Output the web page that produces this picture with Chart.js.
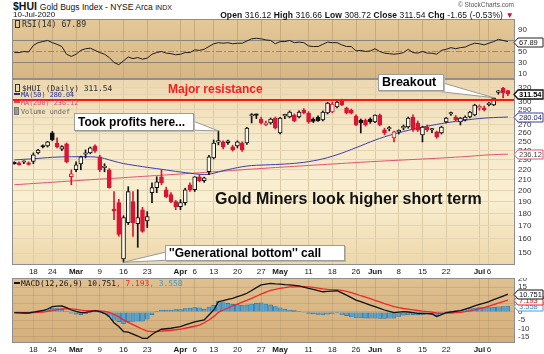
<!DOCTYPE html>
<html>
<head>
<meta charset="utf-8">
<title>$HUI Gold Bugs Index</title>
<script src="https://cdn.jsdelivr.net/npm/chart.js@4.4.1/dist/chart.umd.min.js"></script>
<style>
  body { margin:0; width:544px; height:354px; position:relative; overflow:hidden; background:#fff;
         font-family:"Liberation Sans", Arial, sans-serif; color:#111; }
  canvas { position:absolute; left:0; }
  .t { position:absolute; white-space:nowrap; line-height:1; }
  .mono { font-family:"DejaVu Sans Mono", monospace; color:#2a2a2a; }
  .ico { display:inline-block; width:3px; height:6px; border:1px solid #333; margin-right:2px; vertical-align:-1px; }
  .dash { display:inline-block; width:6px; height:0; border-top:2px solid; margin-right:1px; vertical-align:2px; }
  .box { position:absolute; background:#fff; border:1px solid #9c9c9c; box-shadow:1px 1px 0 #b8b8b8;
         font-weight:bold; white-space:nowrap; box-sizing:border-box; padding-left:3px; color:#000; }
</style>
</head>
<body>
<canvas id="rsiChart" width="544" height="60" style="top:19px"></canvas>
<canvas id="priceChart" width="544" height="199" style="top:79px"></canvas>
<canvas id="macdChart" width="544" height="76" style="top:278px"></canvas>

<div class="t" style="left:13px;top:1px;font-size:10.5px;font-weight:bold">$HUI <span style="font-weight:normal;font-size:8.5px">Gold Bugs Index - NYSE Arca <span style="font-size:7px">INDX</span></span></div>
<div class="t" id="dateLine" style="left:13px;top:11px;font-size:8px"></div>
<div class="t" id="ohlc" style="right:30px;top:11px;font-size:8.5px;letter-spacing:0.1px"></div>
<div class="t" style="right:30px;top:2px;font-size:6.5px;color:#555">© StockCharts.com</div>

<div class="t mono" style="left:15px;top:20px;font-size:8.2px"><span class="ico"></span>RSI(14) <span id="rsiVal"></span></div>

<div class="t mono" style="left:15px;top:84px;font-size:7.9px"><span class="ico"></span>$HUI (Daily) <span id="closeVal"></span></div>
<div class="t mono" style="left:14px;top:92px;font-size:6.8px;color:#2b2ba0"><span class="dash"></span>MA(50) <span id="ma50Val"></span></div>
<div class="t mono" style="left:14px;top:99.5px;font-size:6.8px;color:#e04462"><span class="dash"></span>MA(200) <span id="ma200Val"></span></div>
<div class="t mono" style="left:14px;top:107px;font-size:6.8px;color:#666"><span class="ico" style="border-color:#777;background:#999"></span>Volume undef</div>

<div class="t mono" style="left:14px;top:279.5px;font-size:7.9px;color:#111"><span class="dash" style="color:#111"></span>MACD(12,26,9) <span id="m1"></span><span style="color:#e82424">, <span id="m2"></span></span><span style="color:#3f96c9">, <span id="m3"></span></span></div>

<div class="t" style="left:168px;top:83px;font-size:12px;font-weight:bold;color:#ff1a1a">Major resistance</div>
<div class="box" style="left:74px;top:113px;width:120px;height:18px;font-size:12px;line-height:16px">Took profits here...</div>
<div class="box" style="left:378px;top:74px;width:66px;height:17px;font-size:12.5px;line-height:15px">Breakout</div>
<div class="t" style="left:215px;top:191px;font-size:16px;font-weight:bold">Gold Miners look higher short term</div>
<div class="box" style="left:165px;top:245px;width:180px;height:16px;font-size:12px;line-height:14px">''Generational bottom'' call</div>

<script>
// trading days shown on the chart
const dates = [
  '2020-02-11','2020-02-12','2020-02-13','2020-02-14','2020-02-18','2020-02-19','2020-02-20','2020-02-21','2020-02-24','2020-02-25',
  '2020-02-26','2020-02-27','2020-02-28','2020-03-02','2020-03-03','2020-03-04','2020-03-05','2020-03-06','2020-03-09','2020-03-10',
  '2020-03-11','2020-03-12','2020-03-13','2020-03-16','2020-03-17','2020-03-18','2020-03-19','2020-03-20','2020-03-23','2020-03-24',
  '2020-03-25','2020-03-26','2020-03-27','2020-03-30','2020-03-31','2020-04-01','2020-04-02','2020-04-03','2020-04-06','2020-04-07',
  '2020-04-08','2020-04-09','2020-04-13','2020-04-14','2020-04-15','2020-04-16','2020-04-17','2020-04-20','2020-04-21','2020-04-22',
  '2020-04-23','2020-04-24','2020-04-27','2020-04-28','2020-04-29','2020-04-30','2020-05-01','2020-05-04','2020-05-05','2020-05-06',
  '2020-05-07','2020-05-08','2020-05-11','2020-05-12','2020-05-13','2020-05-14','2020-05-15','2020-05-18','2020-05-19','2020-05-20',
  '2020-05-21','2020-05-22','2020-05-26','2020-05-27','2020-05-28','2020-05-29','2020-06-01','2020-06-02','2020-06-03','2020-06-04',
  '2020-06-05','2020-06-08','2020-06-09','2020-06-10','2020-06-11','2020-06-12','2020-06-15','2020-06-16','2020-06-17','2020-06-18',
  '2020-06-19','2020-06-22','2020-06-23','2020-06-24','2020-06-25','2020-06-26','2020-06-29','2020-06-30','2020-07-01','2020-07-02',
  '2020-07-06','2020-07-07','2020-07-08','2020-07-09','2020-07-10'
];

const opens = [
  227,227,227.5,227,228.5,237.5,245.5,245.3,260.3,248.6,
  241.5,247.5,213,219.8,225.9,236,237.5,245.3,233.2,222,
  219.8,183.5,189,146,172.5,189.9,171.7,183,173.8,197.9,
  202.5,212.9,200.6,196.1,189.9,185.6,189,205.2,200.6,212.9,
  209,217.8,232.2,249.5,249.8,249,244.1,245.3,248.6,248.6,
  281.3,282.6,277.5,270.5,272.5,278.8,260.3,281.5,280.1,282.6,
  280.1,289.2,285.2,277.5,280.1,276.2,285.2,286.5,293.2,302.8,
  291.9,289.2,281.3,276.2,276.2,277.5,273.7,282.6,263.9,265.1,
  254.4,261.5,266.5,267.5,280.1,272.5,257.9,267.5,263.8,261.5,
  260.3,273.7,283.9,280.1,273.7,276.2,280.1,282.6,292,291.9,
  296.5,296,313.5,319.9,316.12
];
const highs = [
  228,228,229,228,237.5,241.5,246.5,250.5,262,254.4,
  245.5,248.6,219.8,228,234,240.8,244,246.5,235,226,
  221,198.8,192,178,203.4,198.8,200.6,185,181.4,207.1,
  212.9,219.8,203,198,191,191.6,202,207,213,215,
  212.5,235,252,262.7,251,252,246,251,250,267,
  284.5,284,280,275,278.8,280,279.5,283.9,288,284,
  288,291,287,279,281.5,288,299.5,300,301,304,
  293,290.5,283,277.5,277.5,279,283,284,266,268,
  262.5,264,270,280,283,275,268.5,270,266,262.5,
  268.5,279.5,286.5,282,279.5,281.5,287.5,297,295.9,294.5,
  299.5,306,316.5,321,316.66
];
const lows = [
  225.5,224.5,226,224.5,226,236.5,243,244,251,243,
  240,227,205.2,217.8,219.8,232.2,236.5,238,218,217.8,
  202,174.9,162,143.8,171,161.9,154,165,168.6,189,
  197.9,205.2,193.5,189,183,183,187,199,199,208,
  207.5,215,231,246.4,242,247,239.5,243,239,247,
  272.5,278,271,269,271,265,259,278,279,274,
  279,284,272,273,274.5,275,284,285.5,292,295,
  284,284,269,260.3,268.5,272,273,269,258,262.7,
  249.8,259,264,266,262,262,249.8,262,260.5,254,
  259,272.5,282,275,270,275,279,281.5,289,287.9,
  294.5,295,311,305.6,308.72
];
const closes = [
  226,225,227.6,225.2,235.4,240.5,244,249.8,252.1,244.1,
  244.5,228,215.8,224.9,233.2,236.4,243,239.7,219.8,222.8,
  202.5,182.2,163.4,176.5,198.8,172.5,176.5,165.6,177.3,202.5,
  208.1,207.1,194.3,189.9,185.6,189,200.6,200.3,212.9,209,
  211.9,233.2,248.6,249.8,244.1,250.9,240.8,249.8,240.8,266.3,
  281.9,282.2,272.5,272,277.5,266.3,278.8,282,286.5,275,
  286.5,285.8,273.7,274.5,275.5,286.5,298.6,297.3,300,295.9,
  285.2,285,270,272.5,270,274,282.6,270,260.3,265.5,
  261.5,263,267,278.8,263.9,263.5,267.5,263.9,264.2,255.6,
  267.5,278.8,284.5,276.2,278.8,280.1,286.5,295.9,293,289.5,
  297.5,305.6,314.1,313.19,311.54
];

const ma50 = [
  230,230.3,230.6,230.9,231.2,231.6,232,232.4,232.8,233,
  233.2,233.3,233.3,233.4,233.4,233.5,233.3,233.1,232.5,231.5,
  230,228.6,227.3,226.2,225.3,224.5,223.8,223,222.3,221.6,
  221,220.3,219.6,218.9,218.2,217.6,217,216.4,215.8,215.3,
  215,215.3,216.3,217.6,218.9,220,221,222,222.9,223.6,
  224.1,224.4,224.6,224.8,225,225.2,225.4,225.7,226,226.4,
  226.9,227.4,228.2,229,230,231.1,232.4,233.9,235.5,237.3,
  239.2,241.2,243.3,245.4,247.6,249.8,251.9,253.9,255.7,257.4,
  259,260.5,262,263.4,264.8,266.1,267.3,268.5,269.6,270.7,
  271.7,272.7,273.6,274.4,275.2,276,276.8,277.5,278.1,278.6,
  279,279.3,279.6,279.8,280.04
];
const ma200 = [
  205.2,205.5,205.8,206.1,206.4,206.7,207,207.3,207.6,207.9,
  208.2,208.5,208.8,209.1,209.4,209.7,210,210.3,210.6,210.9,
  211.1,211.4,211.7,212,212.3,212.6,212.9,213.2,213.5,213.8,
  214.1,214.4,214.7,215,215.3,215.6,215.9,216.2,216.5,216.8,
  217.1,217.4,217.8,218.1,218.4,218.8,219.1,219.5,219.8,220.2,
  220.5,220.8,221.1,221.4,221.8,222.1,222.4,222.7,223,223.3,
  223.6,223.9,224.2,224.5,224.8,225.1,225.4,225.7,226,226.3,
  226.6,226.9,227.2,227.5,227.8,228.1,228.3,228.6,228.9,229.2,
  229.4,229.7,229.9,230.2,230.4,230.7,230.9,231.2,231.4,231.7,
  232,232.3,232.6,232.9,233.2,233.5,233.9,234.3,234.7,235.1,
  235.4,235.6,235.8,236,236.12
];

const rsi = [
  48,48,50,49,61,66,68,70,66,63,
  59,45,41,45,52,55,56,52,48,45,
  39,30,26,33,40,37,39,36,38,45,
  48,50,47,46,44,45,48,48,53,52,
  54,59,64,66,65,66,64,65,65,69,
  73,74,73,71,70,64,68,68,70,66,
  67,66,60,59,59,63,67,66,66,62,
  59,59,51,52,50,51,55,50,47,46,
  45,46,48,54,48,47,50,47,47,45,
  52,54,57,55,57,58,62,65,64,62,
  65,68,72,70,67.89
];

const macd = [
  -0.4,-0.5,-0.6,-0.6,-0.1,0.4,0.9,1.8,3.2,3.5,
  3.6,2.6,1.2,0.3,-0.4,-0.2,0.2,0.8,0.2,-0.8,
  -2.8,-6.5,-8.8,-11.8,-12.2,-13.3,-14.5,-15.9,-15.9,-13.6,
  -11.8,-10.4,-10.1,-9.8,-9.3,-8.8,-7.8,-6.8,-6.0,-5.4,
  -4.8,-1.8,1.2,6.2,6.9,7.6,8.2,9.2,10.2,11.3,
  13.0,14.7,16.3,16.8,17.3,17.0,16.8,16.5,16.3,16.0,
  15.7,15.0,14.3,13.7,12.9,12.2,12.4,12.6,12.8,11.5,
  10.2,8.7,7.2,6.2,5.2,4.2,3.2,2.2,1.2,0.4,
  -0.4,-0.1,0.2,0.0,-0.4,-0.8,-0.9,-1.0,-1.2,-2.8,
  -1.6,-0.4,0.0,0.4,0.8,1.7,2.7,3.7,4.6,5.4,
  6.2,7.4,8.5,9.6,10.751
];
const signal = [
  -0.4,-0.42,-0.46,-0.49,-0.41,-0.25,-0.02,0.34,0.91,1.43,
  1.86,2.01,1.85,1.54,1.15,0.88,0.74,0.75,0.64,0.35,
  -0.28,-1.52,-2.98,-4.74,-6.23,-7.65,-9.02,-10.4,-11.5,-11.9,
  -11.9,-11.6,-11.3,-11.0,-10.7,-10.3,-9.8,-9.2,-8.6,-7.9,
  -6.5,-4.8,-2.8,-0.2,1.2,2.4,3.6,4.8,6.0,7.0,
  8.2,9.5,10.8,12.0,13.0,13.7,14.3,14.7,15.1,15.2,
  15.3,15.3,15.1,14.8,14.4,14.0,13.7,13.5,13.3,13.0,
  12.4,11.7,10.8,9.8,8.9,8.0,7.0,6.1,5.1,4.2,
  3.3,2.6,2.1,1.7,1.3,0.9,0.5,0.2,-0.1,-0.6,
  -0.8,-0.7,-0.6,-0.4,-0.2,0.2,0.7,1.3,2.0,2.6,
  3.6,4.5,5.4,6.3,7.193
];

// date axis labels
const axisTicks = [
  ['2020-02-18','18'],['2020-02-24','24'],['2020-03-02','Mar'],['2020-03-09','9'],['2020-03-16','16'],
  ['2020-03-23','23'],['2020-04-01','Apr'],['2020-04-06','6'],['2020-04-13','13'],['2020-04-20','20'],
  ['2020-04-27','27'],['2020-05-01','May'],['2020-05-11','11'],['2020-05-18','18'],['2020-05-26','26'],
  ['2020-06-01','Jun'],['2020-06-08','8'],['2020-06-15','15'],['2020-06-22','22'],['2020-07-01','Jul'],
  ['2020-07-06','6']
];
const priceTicks = [150,160,170,180,190,200,210,220,230,240,250,260,270,280,290,300,310,320];
const rsiTicks = [10,30,50,70,90];
const macdTicks = [-15,-10,-5,0,5,10,15,20];
const resistance = 302.5;

const FONT = '"Liberation Sans", Arial, sans-serif';
const RED = '#dc1433', BLACK = '#111', HOLLOW = '#fcf7e4';
const PRICE_TOP = 79;
const last = dates.length - 1;
const labels = dates.concat(['']);
const tickText = {};
axisTicks.forEach(([d, t]) => { tickText[dates.indexOf(d)] = t; });
const hist = macd.map((m, i) => +(m - signal[i]).toFixed(3));
const candleColors = closes.map((c, i) => (i > 0 && c < closes[i - 1]) ? RED : BLACK);

Chart.defaults.font.family = FONT;
Chart.defaults.animation = false;
Chart.defaults.plugins.legend.display = false;
Chart.defaults.plugins.tooltip.enabled = false;

// header + legends
const MONTHS = ['Jan','Feb','Mar','Apr','May','Jun','Jul','Aug','Sep','Oct','Nov','Dec'];
const [yy, mm, dd] = dates[last].split('-');
document.getElementById('dateLine').textContent = `${+dd}-${MONTHS[mm - 1]}-${yy}`;
const chg = closes[last] - closes[last - 1];
document.getElementById('ohlc').innerHTML =
  `<b>Open</b> ${opens[last].toFixed(2)} <b>High</b> ${highs[last].toFixed(2)} <b>Low</b> ${lows[last].toFixed(2)} ` +
  `<b>Close</b> ${closes[last].toFixed(2)} <b>Chg</b> ${chg.toFixed(2)} (${(chg / closes[last - 1] * 100).toFixed(2)}%) ` +
  `<span style="color:#d0103a">▼</span>`;
document.getElementById('rsiVal').textContent = rsi[last].toFixed(2);
document.getElementById('closeVal').textContent = closes[last].toFixed(2);
document.getElementById('ma50Val').textContent = ma50[last].toFixed(2);
document.getElementById('ma200Val').textContent = ma200[last].toFixed(2);
document.getElementById('m1').textContent = macd[last].toFixed(3);
document.getElementById('m2').textContent = signal[last].toFixed(3);
document.getElementById('m3').textContent = hist[last].toFixed(3);

function xAxis(labelHeight, gridColor) {
  return {
    type: 'category', offset: true,
    grid: { offset: false, drawTicks: false, color: c => (c.index in tickText) ? gridColor : 'rgba(0,0,0,0)' },
    border: { display: false },
    ticks: {
      display: labelHeight > 0, autoSkip: false, maxRotation: 0, minRotation: 0, padding: 2, color: '#1a1a1a',
      font: c => ({ family: FONT, size: 8, weight: /^[A-Z]/.test(tickText[c.index] || '') ? 'bold' : 'normal' }),
      callback: (v, i) => tickText[i] || ''
    },
    afterFit: s => { s.height = labelHeight; s.paddingLeft = 0; s.paddingRight = 0; }
  };
}

function yAxis(extra) {
  return Object.assign({
    position: 'right',
    border: { display: false },
    afterFit: s => { s.width = 29; s.paddingTop = 0; s.paddingBottom = 0; }
  }, extra);
}

function drawTag(chart, t) {
  const ctx = chart.ctx;
  const x = chart.chartArea.right - 1;
  const y = Math.round(chart.scales.y.getPixelForValue(t.value)) + 0.5;
  ctx.save();
  ctx.beginPath();
  ctx.moveTo(x, y);
  ctx.lineTo(x + 4, y - 4.5);
  ctx.lineTo(543, y - 4.5);
  ctx.lineTo(543, y + 4.5);
  ctx.lineTo(x + 4, y + 4.5);
  ctx.closePath();
  ctx.fillStyle = '#fff';
  ctx.fill();
  ctx.lineWidth = t.bold ? 1.3 : 1;
  ctx.strokeStyle = t.border;
  ctx.stroke();
  ctx.fillStyle = t.color;
  ctx.font = (t.bold ? 'bold 7.5px ' : '7.5px ') + FONT;
  ctx.textBaseline = 'middle';
  ctx.textAlign = 'left';
  ctx.fillText(t.text, x + 5, y + 0.5);
  ctx.restore();
}

function panel(stops, tags, extra) {
  extra = extra || {};
  return {
    id: 'panel',
    beforeDraw(chart) {
      const { ctx, chartArea: a, width, height } = chart;
      ctx.save();
      ctx.fillStyle = '#fff';
      ctx.fillRect(0, 0, width, height);
      const g = ctx.createLinearGradient(0, a.top, 0, a.bottom);
      stops.forEach(s => g.addColorStop(s[0], s[1]));
      ctx.fillStyle = g;
      ctx.fillRect(a.left, a.top, a.right - a.left, a.bottom - a.top);
      ctx.restore();
    },
    beforeDatasetsDraw(chart) { if (extra.under) extra.under(chart); },
    afterDatasetsDraw(chart) { if (extra.over) extra.over(chart); },
    afterDraw(chart) {
      const { ctx, chartArea: a } = chart;
      ctx.save();
      ctx.strokeStyle = '#8e8e8e';
      ctx.lineWidth = 1;
      ctx.strokeRect(a.left + 0.5, a.top + 0.5, a.right - a.left - 1, a.bottom - a.top - 1);
      ctx.restore();
      tags.forEach(t => drawTag(chart, t));
    }
  };
}

function hline(chart, value, color, dash) {
  const { ctx, chartArea: a } = chart;
  const y = Math.round(chart.scales.y.getPixelForValue(value)) + 0.5;
  ctx.save();
  ctx.strokeStyle = color;
  ctx.lineWidth = 1;
  ctx.setLineDash(dash || []);
  ctx.beginPath();
  ctx.moveTo(a.left, y);
  ctx.lineTo(a.right, y);
  ctx.stroke();
  ctx.restore();
}

function wedge(ctx, tip, b1, b2) {
  ctx.save();
  ctx.beginPath();
  ctx.moveTo(b1[0], b1[1]);
  ctx.lineTo(tip[0], tip[1]);
  ctx.lineTo(b2[0], b2[1]);
  ctx.closePath();
  ctx.fillStyle = '#fff';
  ctx.fill();
  ctx.beginPath();
  ctx.moveTo(b1[0], b1[1]);
  ctx.lineTo(tip[0], tip[1]);
  ctx.lineTo(b2[0], b2[1]);
  ctx.strokeStyle = '#9a9a9a';
  ctx.lineWidth = 1;
  ctx.stroke();
  ctx.restore();
}

const callouts = [
  { i: 43, price: highs[43], b1: [193, 121], b2: [184, 130] },
  { i: 101, price: highs[101], b1: [426, 90], b2: [443, 83] },
  { i: 23, price: lows[23], b1: [166, 252], b2: [172, 260] }
];

const baseOptions = {
  responsive: false,
  layout: { padding: { left: 12, right: 0, top: 0, bottom: 0 }, autoPadding: false }
};

// RSI panel
new Chart(document.getElementById('rsiChart'), {
  type: 'line',
  data: {
    labels,
    datasets: [{ data: rsi, borderColor: '#1e1e1e', borderWidth: 1, pointRadius: 0, tension: 0 }]
  },
  options: Object.assign({}, baseOptions, {
    scales: {
      x: xAxis(0, '#c8a97b'),
      y: yAxis({
        min: 0, max: 109,
        afterBuildTicks: s => { s.ticks = rsiTicks.map(v => ({ value: v })); },
        ticks: { autoSkip: false, padding: 3, color: '#333', font: { size: 8 }, callback: v => v === 70 ? '' : String(v) },
        grid: { display: false, drawTicks: false }
      })
    }
  }),
  plugins: [panel([[0, '#e4c898'], [1, '#d8b684']],
    [{ value: rsi[last], text: rsi[last].toFixed(2), border: '#222', color: '#111' }],
    { under: ch => { hline(ch, 70, '#8a8377'); hline(ch, 50, '#948a7a', [6, 2, 2, 2]); hline(ch, 30, '#8a8377'); } })]
});

// price panel
new Chart(document.getElementById('priceChart'), {
  type: 'bar',
  data: {
    labels,
    datasets: [
      { type: 'line', data: ma200, borderColor: '#e2536f', borderWidth: 1, pointRadius: 0, order: 5 },
      { type: 'line', data: ma50, borderColor: '#3d3daf', borderWidth: 1, pointRadius: 0, order: 4 },
      { data: lows.map((l, i) => [l, highs[i]]), backgroundColor: candleColors, barThickness: 1, grouped: false, order: 3 },
      { data: opens.map((o, i) => [o, closes[i]]),
        backgroundColor: closes.map((c, i) => c >= opens[i] ? HOLLOW : candleColors[i]),
        borderColor: candleColors, borderWidth: 1, borderSkipped: false,
        barThickness: 4, minBarLength: 1.5, grouped: false, order: 2 }
    ]
  },
  options: Object.assign({}, baseOptions, {
    scales: {
      x: xAxis(13, '#dccba7'),
      y: yAxis({
        type: 'logarithmic', min: 142, max: 333.4,
        afterBuildTicks: s => { s.ticks = priceTicks.map(v => ({ value: v })); },
        ticks: { autoSkip: false, padding: 3, color: '#333', font: { size: 8 }, callback: v => String(v) },
        grid: { color: '#e5d4b1', drawTicks: false }
      })
    }
  }),
  plugins: [panel([[0, '#ecd7b0'], [0.3, '#f6e9c9'], [0.65, '#f9efd1'], [1, '#eed7aa']],
    [
      { value: ma200[last], text: ma200[last].toFixed(2), border: '#e2536f', color: '#444' },
      { value: ma50[last], text: ma50[last].toFixed(2), border: '#3d3daf', color: '#1c1c60' },
      { value: closes[last], text: closes[last].toFixed(2), border: '#111', color: '#000', bold: true }
    ],
    { over: ch => {
        const { ctx, chartArea: a, scales: { x, y } } = ch;
        const ry = Math.round(y.getPixelForValue(resistance));
        ctx.save();
        ctx.strokeStyle = '#ff1414';
        ctx.lineWidth = 2;
        ctx.beginPath();
        ctx.moveTo(a.left, ry);
        ctx.lineTo(a.right, ry);
        ctx.stroke();
        ctx.restore();
        callouts.forEach(c => {
          const tip = [x.getPixelForValue(c.i), y.getPixelForValue(c.price)];
          wedge(ctx, tip, [c.b1[0], c.b1[1] - PRICE_TOP], [c.b2[0], c.b2[1] - PRICE_TOP]);
        });
      } })]
});

// MACD panel
new Chart(document.getElementById('macdChart'), {
  type: 'bar',
  data: {
    labels,
    datasets: [
      { type: 'line', data: macd, borderColor: '#111', borderWidth: 1.3, pointRadius: 0, order: 1 },
      { type: 'line', data: signal, borderColor: '#f0262a', borderWidth: 1.3, pointRadius: 0, order: 2 },
      { data: hist, backgroundColor: '#55a2cf', borderColor: '#2d6d98', borderWidth: 0.6,
        barThickness: 4, grouped: false, order: 3 }
    ]
  },
  options: Object.assign({}, baseOptions, {
    scales: {
      x: xAxis(11, '#c8a97b'),
      y: yAxis({
        min: -18.7, max: 20.5,
        afterBuildTicks: s => { s.ticks = macdTicks.map(v => ({ value: v })); },
        ticks: { autoSkip: false, padding: 3, color: '#333', font: { size: 8 }, callback: v => String(v) },
        grid: { color: 'rgba(150,110,60,0.22)', drawTicks: false }
      })
    }
  }),
  plugins: [panel([[0, '#dfc090'], [1, '#d4af7c']],
    [
      { value: hist[last], text: hist[last].toFixed(3), border: '#4a9cd0', color: '#3a88bd' },
      { value: signal[last], text: signal[last].toFixed(3), border: '#e82424', color: '#e01010' },
      { value: macd[last], text: macd[last].toFixed(3), border: '#111', color: '#111' }
    ])]
});
</script>
</body>
</html>
